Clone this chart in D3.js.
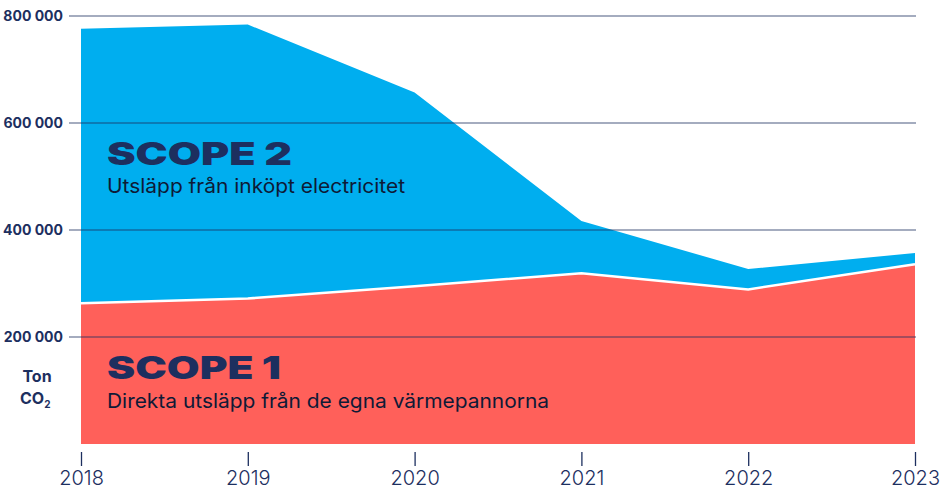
<!DOCTYPE html>
<html>
<head>
<meta charset="utf-8">
<script src="https://cdn.jsdelivr.net/npm/d3@7"></script>
<style>
  body { margin: 0; background: #fff; }
  svg { display: block; }
  text { font-family: "Inter", "Roboto", sans-serif; }
</style>
</head>
<body>
<div class="chart"></div>
<script>
// data (ton CO2)
var years = [2018, 2019, 2020, 2021, 2022, 2023];
var scope1 = [263000, 272000, 295000, 319000, 289000, 336000];
var scope2 = [513000, 512000, 362000, 98000, 38000, 21000];
var yTicks = [200000, 400000, 600000, 800000];

var navy = "#1d2f5f";

var width = 942, height = 490;

var svg = d3.select(".chart")
    .append("svg")
    .attr("width", width)
    .attr("height", height);

var x = d3.scaleLinear()
    .domain([2018, 2023])
    .range([81, 915]);

var y = d3.scaleLinear()
    .domain([0, 800000])
    .range([444, 16]);

var rows = years.map(function (yr, i) {
    return { year: yr, scope1: scope1[i], scope2: scope2[i] };
});

var series = d3.stack().keys(["scope1", "scope2"])(rows);
var colors = { scope1: "#ff605a", scope2: "#00aeef" };

var area = d3.area()
    .x(function (d) { return x(d.data.year); })
    .y0(function (d) { return y(d[0]); })
    .y1(function (d) { return y(d[1]); });

svg.append("g")
    .selectAll("path")
    .data(series)
    .enter().append("path")
    .attr("d", area)
    .style("fill", function (d) { return colors[d.key]; });

// white seam between the two areas
svg.append("path")
    .datum(series[0])
    .attr("d", d3.line()
        .x(function (d) { return x(d.data.year); })
        .y(function (d) { return y(d[1]); }))
    .style("fill", "none")
    .style("stroke", "#fff")
    .style("stroke-width", 2.5);

// gridlines on top of the areas
var grid = svg.append("g");
grid.selectAll("line")
    .data(yTicks)
    .enter().append("line")
    .attr("x1", 69)
    .attr("x2", 916)
    .attr("y1", function (d) { return y(d); })
    .attr("y2", function (d) { return y(d); })
    .style("stroke", navy)
    .style("stroke-opacity", 0.8)
    .style("stroke-width", 1.2);

var fmt = function (d) { return d3.format(",")(d).replace(/,/g, " "); };

grid.selectAll("text")
    .data(yTicks)
    .enter().append("text")
    .attr("x", 63)
    .attr("y", function (d) { return y(d) + 5; })
    .attr("text-anchor", "end")
    .style("font-size", "14px")
    .style("font-weight", 700)
    .style("fill", navy)
    .text(fmt);

// x axis
var xAxis = d3.axisBottom(x)
    .tickValues(years)
    .tickFormat(d3.format("d"))
    .tickSize(14)
    .tickPadding(5);

var gx = svg.append("g")
    .attr("transform", "translate(0,452)")
    .call(xAxis);
gx.select(".domain").remove();
gx.selectAll(".tick line").style("stroke", navy).style("stroke-width", 1.3);
gx.selectAll(".tick text")
    .style("font-family", "Inter, Roboto, sans-serif")
    .style("font-size", "20px")
    .style("font-weight", 300)
    .style("fill", navy);

// unit label
svg.append("text")
    .attr("x", 37)
    .attr("y", 382)
    .attr("text-anchor", "middle")
    .style("font-size", "16px")
    .style("font-weight", 700)
    .style("fill", navy)
    .text("Ton");

var co2 = svg.append("text")
    .attr("x", 20)
    .attr("y", 404)
    .style("font-size", "16px")
    .style("font-weight", 700)
    .style("fill", navy);
co2.append("tspan").text("CO");
co2.append("tspan").attr("dy", 4).style("font-size", "10px").text("2");

// series labels
function label(title, sub, ty, titleW, sy, subW) {
    var t = svg.append("text")
        .attr("x", 0)
        .attr("y", 0)
        .style("font-family", "Inter, sans-serif")
        .style("font-size", "31px")
        .style("font-weight", 900)
        .style("fill", navy)
        .text(title);
    var w = t.node().getComputedTextLength();
    t.attr("transform", "translate(107," + ty + ") scale(" + (titleW / w) + ",1)");

    svg.append("text")
        .attr("x", 107)
        .attr("y", sy)
        .attr("textLength", subW)
        .attr("lengthAdjust", "spacingAndGlyphs")
        .style("font-size", "20px")
        .style("font-weight", 400)
        .style("fill", "#0e1a36")
        .text(sub);
}

label("SCOPE 2", "Utsläpp från inköpt electricitet", 165, 185, 193, 298);
label("SCOPE 1", "Direkta utsläpp från de egna värmepannorna", 379, 174, 408, 442);
</script>
</body>
</html>
